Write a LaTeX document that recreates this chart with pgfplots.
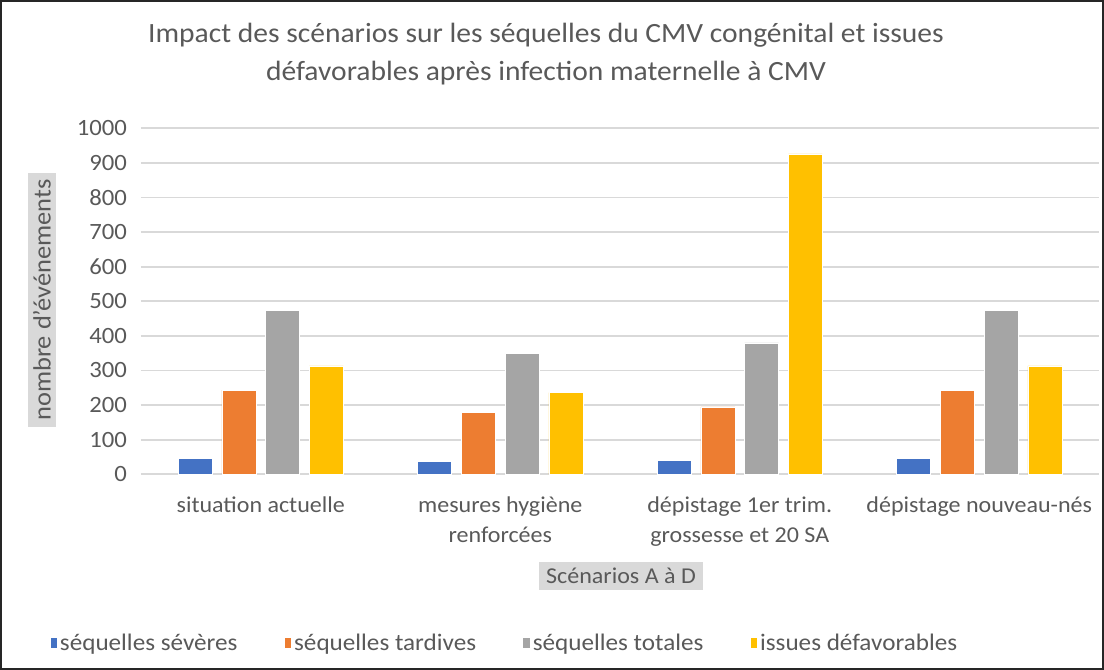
\documentclass[border=0pt]{standalone}
\usepackage{fontspec}
\setmainfont{Carlito}[FakeStretch=1.06]
\usepackage{pgfplots}
\pgfplotsset{compat=1.18}
\definecolor{cblue}{HTML}{4472C4}
\definecolor{corange}{HTML}{ED7D31}
\definecolor{cgray}{HTML}{A5A5A5}
\definecolor{cyellow}{HTML}{FFC000}
\definecolor{txt}{HTML}{595959}
\definecolor{grd}{HTML}{D9D9D9}
\newcommand\px[2]{({((#1)-141)*0.75pt},{(474.3-(#2))*0.75pt})}
\begin{document}
\begin{tikzpicture}
\useasboundingbox \px{0}{0} rectangle \px{1104}{670};
\draw[black!85, line width=1.2pt] \px{1}{1} rectangle \px{1103}{669};
\begin{axis}[
  scale only axis, width=718.5pt, height=259.5pt,
  xmin=-0.5, xmax=3.5, ymin=0, ymax=1000,
  ybar=7.3pt, bar width=25.5pt,
  xtick={0,1,2,3},
  xticklabels={situation actuelle,{mesures hygiène\\renforcées},{dépistage 1er trim.\\grossesse et 20 SA},dépistage nouveau-nés},
  xticklabel style={align=center, font=\fontsize{17}{22.5}\selectfont, text=txt, yshift=-13pt},
  ytick={0,100,...,1000},
  /pgf/number format/assume math mode=true,
  /pgf/number format/set thousands separator={},
  yticklabel style={font=\fontsize{17.5}{20}\selectfont, text=txt, xshift=-7pt},
  ymajorgrids, grid style={grd, line width=1.4pt},
  axis line style={draw=none}, major tick length=0pt,
  legend style={at={(-71pt,-126.5pt)}, anchor=west, draw=none, fill=none,
    legend columns=4, font=\fontsize{17.8}{20}\selectfont, text=txt,
    /tikz/every even column/.append style={column sep=33.5pt}},
  legend image code/.code={\fill[#1,draw=none] (0pt,-0.36em) rectangle (0.5em,0.36em);},
  every axis plot/.append style={draw=white, line width=0.3pt},
]
\addplot[fill=cblue] coordinates {(0,46) (1,37) (2,40) (3,46)};
\addplot[fill=corange] coordinates {(0,243) (1,180) (2,195) (3,243)};
\addplot[fill=cgray] coordinates {(0,473) (1,350) (2,380) (3,473)};
\addplot[fill=cyellow] coordinates {(0,313) (1,236) (2,926) (3,313)};
\legend{séquelles sévères,séquelles tardives,séquelles totales,issues défavorables}
\end{axis}
\node[text=txt, font=\fontsize{20.9}{29}\selectfont, align=center] at \px{546}{54} {Impact des scénarios sur les séquelles du CMV congénital et issues\\défavorables après infection maternelle à CMV};
\node[fill=grd, text=txt, font=\fontsize{18.7}{20}\selectfont, rotate=90, inner xsep=5pt, inner ysep=3.5pt] at \px{42}{300} {nombre d'événements};
\node[fill=grd, text=txt, font=\fontsize{17}{20}\selectfont, inner xsep=5pt, inner ysep=4.5pt] at \px{621}{576} {Scénarios A à D};
\end{tikzpicture}
\end{document}
